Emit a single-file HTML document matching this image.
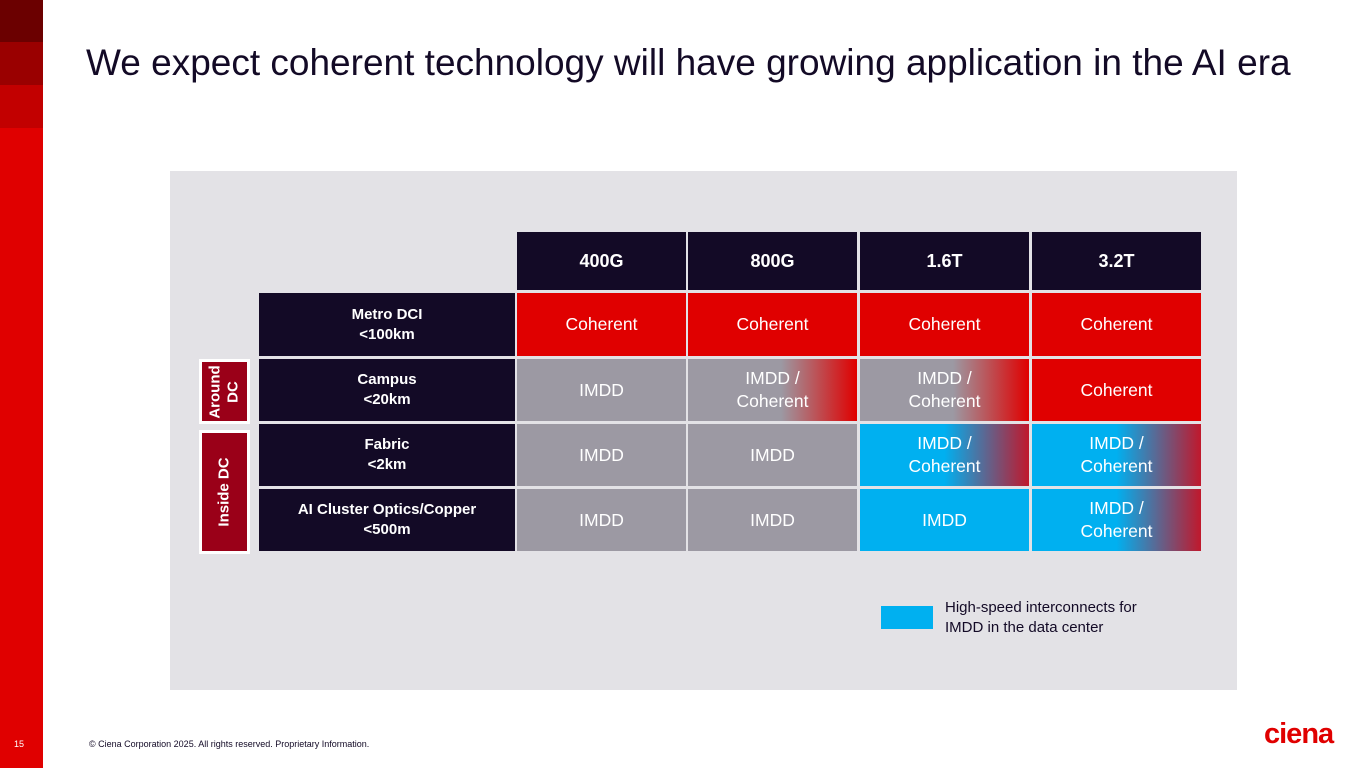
<!DOCTYPE html>
<html><head><meta charset="utf-8"><style>
body{margin:0;width:1365px;height:768px;position:relative;background:#fff;font-family:"Liberation Sans",sans-serif;overflow:hidden}
.a{position:absolute}
.c{position:absolute;display:flex;align-items:center;justify-content:center;text-align:center;color:#fff;font-size:17.5px;line-height:23px}
.h{background:#130a26;font-weight:bold;font-size:18px}
.r{background:#130a26;font-weight:bold;font-size:15px;line-height:20px}
.red{background:#e00000}
.g{background:#9c99a3}
.gr{background:linear-gradient(90deg,#9c99a3 0%,#9c99a3 55%,#e00000 100%)}
.bl{background:#00b0f0}
.br{background:linear-gradient(90deg,#00b0f0 0%,#00b0f0 50%,#c0182c 100%)}
</style></head><body>
<div class="a" style="left:0;top:0;width:43px;height:768px;background:#e00000"></div>
<div class="a" style="left:0;top:0;width:43px;height:42px;background:#6b0000"></div>
<div class="a" style="left:0;top:42px;width:43px;height:43px;background:#9a0000"></div>
<div class="a" style="left:0;top:85px;width:43px;height:43px;background:#c20000"></div>
<div class="a" style="left:86px;top:42px;font-size:37px;color:#130a26;white-space:nowrap">We expect coherent technology will have growing application in the AI era</div>
<div class="a" style="left:170px;top:171px;width:1067px;height:519px;background:#e3e2e6"></div>

<div class="c h" style="left:517px;top:232px;width:169px;height:58px">400G</div>
<div class="c h" style="left:688px;top:232px;width:169px;height:58px">800G</div>
<div class="c h" style="left:860px;top:232px;width:169px;height:58px">1.6T</div>
<div class="c h" style="left:1032px;top:232px;width:169px;height:58px">3.2T</div>

<div class="c r" style="left:259px;top:293px;width:256px;height:63px">Metro DCI<br>&lt;100km</div>
<div class="c r" style="left:259px;top:359px;width:256px;height:62px">Campus<br>&lt;20km</div>
<div class="c r" style="left:259px;top:424px;width:256px;height:62px">Fabric<br>&lt;2km</div>
<div class="c r" style="left:259px;top:489px;width:256px;height:62px">AI Cluster Optics/Copper<br>&lt;500m</div>

<div class="c r" style="left:199px;top:359px;width:51px;height:65px;background:#9a0018;border:3px solid #fff;box-sizing:border-box"><span style="transform:rotate(-90deg);display:block;line-height:18px">Around<br>DC</span></div>
<div class="c r" style="left:199px;top:430px;width:51px;height:124px;background:#9a0018;border:3px solid #fff;box-sizing:border-box"><span style="transform:rotate(-90deg);display:block;white-space:nowrap">Inside DC</span></div>

<div class="c red" style="left:517px;top:293px;width:169px;height:63px">Coherent</div>
<div class="c red" style="left:688px;top:293px;width:169px;height:63px">Coherent</div>
<div class="c red" style="left:860px;top:293px;width:169px;height:63px">Coherent</div>
<div class="c red" style="left:1032px;top:293px;width:169px;height:63px">Coherent</div>

<div class="c g" style="left:517px;top:359px;width:169px;height:62px">IMDD</div>
<div class="c gr" style="left:688px;top:359px;width:169px;height:62px">IMDD /<br>Coherent</div>
<div class="c gr" style="left:860px;top:359px;width:169px;height:62px">IMDD /<br>Coherent</div>
<div class="c red" style="left:1032px;top:359px;width:169px;height:62px">Coherent</div>

<div class="c g" style="left:517px;top:424px;width:169px;height:62px">IMDD</div>
<div class="c g" style="left:688px;top:424px;width:169px;height:62px">IMDD</div>
<div class="c br" style="left:860px;top:424px;width:169px;height:62px">IMDD /<br>Coherent</div>
<div class="c br" style="left:1032px;top:424px;width:169px;height:62px">IMDD /<br>Coherent</div>

<div class="c g" style="left:517px;top:489px;width:169px;height:62px">IMDD</div>
<div class="c g" style="left:688px;top:489px;width:169px;height:62px">IMDD</div>
<div class="c bl" style="left:860px;top:489px;width:169px;height:62px">IMDD</div>
<div class="c br" style="left:1032px;top:489px;width:169px;height:62px">IMDD /<br>Coherent</div>

<div class="a" style="left:881px;top:606px;width:52px;height:23px;background:#00b0f0"></div>
<div class="a" style="left:945px;top:598px;font-size:15px;line-height:20px;color:#130a26">High-speed interconnects for<br>IMDD in the data center</div>

<div class="a" style="left:14px;top:739px;font-size:9px;color:#fff">15</div>
<div class="a" style="left:89px;top:739px;font-size:9px;color:#130a26">© Ciena Corporation 2025. All rights reserved. Proprietary Information.</div>
<div class="a" style="left:1264px;top:718px;font-size:29px;font-weight:bold;color:#e00000;letter-spacing:-1px">ciena</div>
</body></html>
